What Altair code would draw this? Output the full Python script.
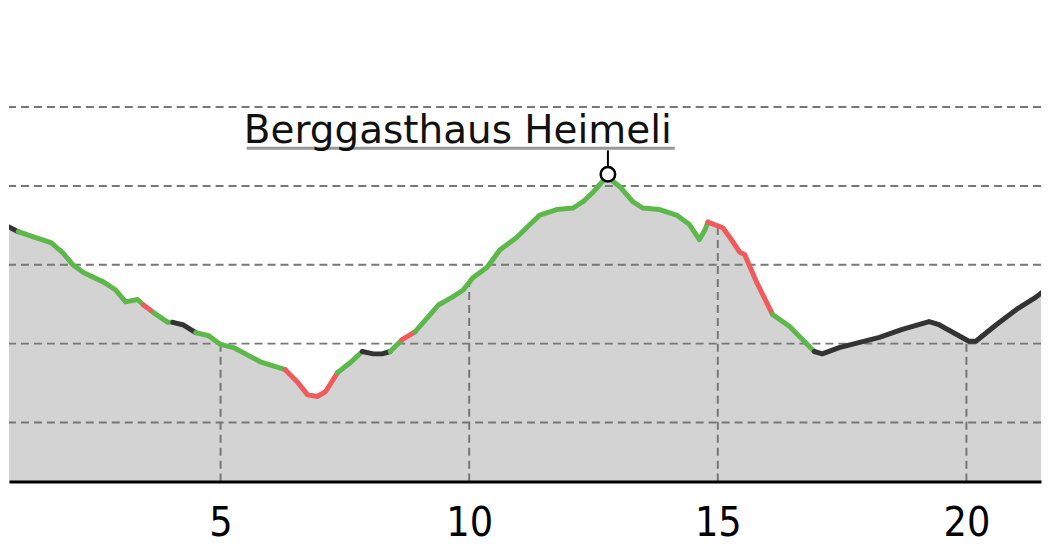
import altair as alt
import pandas as pd

# --- profile data (distance km, elevation m) ---
km = [0.58, 0.93, 1.25, 1.59, 1.83, 2.03, 2.25, 2.65, 2.89, 3.09, 3.33, 3.45, 3.66, 3.94,
      4.04, 4.24, 4.50, 4.76, 5.00, 5.26, 5.80, 6.30, 6.55, 6.75, 6.95, 7.11, 7.35, 7.61,
      7.85, 8.07, 8.25, 8.41, 8.65, 8.91, 9.22, 9.38, 9.66, 9.88, 10.08, 10.36, 10.62,
      10.96, 11.22, 11.42, 11.76, 12.09, 12.29, 12.49, 12.67, 12.79, 13.03, 13.29, 13.49,
      13.83, 14.17, 14.43, 14.63, 14.74, 14.80, 15.10, 15.24, 15.44, 15.54, 15.78, 16.10,
      16.44, 16.94, 17.10, 17.44, 18.25, 18.71, 19.25, 19.45, 20.05, 20.19, 20.60, 21.00,
      21.40, 21.66, 21.90]
elev = [853, 842, 835, 828, 815, 800, 790, 778, 768, 753, 756, 749, 739, 727,
        727, 724, 714, 710, 699, 695, 677, 667, 651, 635, 633, 639, 663, 676,
        690, 687, 687, 690, 705, 715, 737, 749, 759, 768, 784, 797, 819,
        835, 851, 863, 870, 872, 880, 892, 905, 911, 899, 880, 872,
        870, 863, 851, 832, 844, 854, 847, 835, 816, 813, 778, 737,
        722, 690, 687, 695, 708, 718, 728, 724, 703, 703, 724, 743,
        759, 772, 785]
# surface / path type of the segment that starts at each point
trail = (["road"] + ["hike"] * 10 + ["steep"] + ["hike"] * 2 + ["road"] * 2 + ["hike"] * 5
         + ["steep"] * 5 + ["hike"] * 2 + ["road"] * 3 + ["hike"] + ["steep"] + ["hike"] * 25
         + ["steep"] * 6 + ["hike"] * 2 + ["road"] * 14)

trail_types = ["hike", "steep", "road"]
trail_colors = ["#5db84a", "#f05a5a", "#333333"]

x_ticks = [5, 10, 15, 20]
grid_elev = [600, 700, 800, 900, 1000]
x_domain = [0.745, 21.50]
y_domain = [525, 1125]

poi_name = ["Berggasthaus Heimeli"]
poi_km = [12.79]
poi_elev = [911]

# --- tables ---
profile = pd.DataFrame({"km": km, "elev": elev})

rows = []
run = 0
for i in range(len(km) - 1):
    if i > 0 and trail[i] != trail[i - 1]:
        run += 1
    rows.append({"km": km[i], "elev": elev[i], "run": run, "trail": trail[i]})
    rows.append({"km": km[i + 1], "elev": elev[i + 1], "run": run, "trail": trail[i]})
segs = pd.DataFrame(rows).drop_duplicates()

poi = pd.DataFrame({"km": poi_km, "elev": poi_elev, "name": poi_name})

X = alt.X("km:Q",
          scale=alt.Scale(domain=x_domain, nice=False, zero=False),
          axis=alt.Axis(values=x_ticks, title=None, grid=False, ticks=False,
                        domainColor="black", domainWidth=3, zindex=1,
                        labelFont="DejaVu Sans Condensed", labelFontSize=41,
                        labelColor="black", labelPadding=22, labelFlush=False))
Y = alt.Y("elev:Q", scale=alt.Scale(domain=y_domain, nice=False, zero=False), axis=None)

area = alt.Chart(profile).mark_area(color="#d3d3d3", clip=True).encode(
    x=X, y=Y, y2=alt.Y2(datum=y_domain[0]))

vrules = alt.Chart(pd.DataFrame({"km": x_ticks})).mark_rule(
    color="#777777", strokeWidth=2, strokeDash=[8, 5]).encode(
    x=X, y=alt.Y(datum=y_domain[0], scale=alt.Scale(domain=y_domain, nice=False, zero=False), axis=None),
    y2=alt.Y2(datum=grid_elev[-1]))

sky = alt.Chart(profile).mark_area(color="white", clip=True).encode(
    x=X, y=Y, y2=alt.Y2(datum=y_domain[1]))

hrules = alt.Chart(pd.DataFrame({"elev": grid_elev})).mark_rule(
    color="#777777", strokeWidth=2, strokeDash=[8, 5]).encode(y=Y)

line = alt.Chart(segs).mark_line(
    strokeWidth=5, strokeCap="round", strokeJoin="round", clip=True).encode(
    x=X, y=Y, detail="run:N", order="km:Q",
    color=alt.Color("trail:N", scale=alt.Scale(domain=trail_types, range=trail_colors),
                    legend=None))

underline = alt.Chart(poi).mark_rule(
    color="#999999", strokeWidth=3, xOffset=-362, x2Offset=67,
    yOffset=-29, y2Offset=-29).encode(x=X, x2=alt.X2("km:Q"), y=Y, y2=alt.Y2("elev:Q"))

connector = alt.Chart(poi).mark_rule(
    color="black", strokeWidth=2, yOffset=-27, y2Offset=-10).encode(
    x=X, y=Y, y2=alt.Y2("elev:Q"))

marker = alt.Chart(poi).mark_point(
    shape="circle", filled=True, fill="white", stroke="black", strokeWidth=2.5,
    size=210, opacity=1, yOffset=-3).encode(x=X, y=Y)

label = alt.Chart(poi).mark_text(
    align="right", baseline="alphabetic", dx=64, dy=-34,
    font="DejaVu Sans", fontSize=39, color="#111111").encode(x=X, y=Y, text="name:N")

chart = alt.layer(area, vrules, sky, hrules, line, underline, connector, marker, label).properties(
    width=1034, height=474,
    padding={"left": 0, "top": 0, "right": 0, "bottom": 4}
).configure_view(stroke=None)

chart.save("out.html", embed_options={"renderer": "svg", "actions": False})
